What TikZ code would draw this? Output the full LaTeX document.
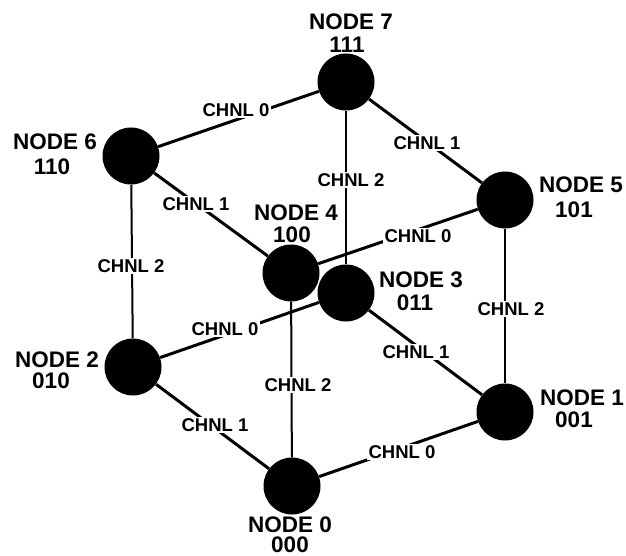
\documentclass[tikz,border=0pt]{standalone}
\usepackage{fontspec}
\setmainfont{Liberation Sans}
\begin{document}
\begin{tikzpicture}[x=1pt,y=-1pt,
  dot/.style={circle,fill=black,draw=none,minimum size=57pt,inner sep=0pt},
  thick0/.style={line width=3pt},
  thin2/.style={line width=2pt},
  lab/.style={fill=white,inner sep=1.5pt,font=\fontsize{18.5}{20}\selectfont\bfseries},
  nlab/.style={anchor=base,inner sep=0pt,font=\fontsize{22.5}{27}\selectfont\bfseries}]
\useasboundingbox (0,0) rectangle (626,556);
% nodes
\node[dot] (n0) at (292,486) {};
\node[dot] (n1) at (505,412) {};
\node[dot] (n2) at (133,367) {};
\node[dot] (n4) at (291,273) {};
\node[dot] (n3) at (346,293) {};
\node[dot] (n5) at (505,200) {};
\node[dot] (n6) at (131,156) {};
\node[dot] (n7) at (346,82) {};
% edges
\draw[thick0] (n6) -- (n7);
\draw[thick0] (n7) -- (n5);
\draw[thin2] (n7) -- (n3);
\draw[thick0] (n6) -- (n4);
\draw[thin2] (n6) -- (n2);
\draw[thick0] (n5) -- (n4);
\draw[thin2] (n5) -- (n1);
\draw[thin2] (n4) -- (n0);
\draw[thick0] (n2) -- (n3);
\draw[thick0] (n3) -- (n1);
\draw[thick0] (n2) -- (n0);
\draw[thick0] (n0) -- (n1);
% channel labels
\node[lab] (c67) at (236,110) {CHNL 0};
\node[lab] (c75) at (427,143) {CHNL 1};
\node[lab] (c73) at (351,180) {CHNL 2};
\node[lab] (c64) at (196,204) {CHNL 1};
\node[lab] (c62) at (131,266) {CHNL 2};
\node[lab] (c54) at (418,236) {CHNL 0};
\node[lab] (c51) at (511,309) {CHNL 2};
\node[lab] (c40) at (298,385) {CHNL 2};
\node[lab] (c23) at (225,329) {CHNL 0};
\node[lab] (c31) at (416,352) {CHNL 1};
\node[lab] (c20) at (215,425) {CHNL 1};
\node[lab] (c01) at (402,452) {CHNL 0};
% node labels
\node[nlab] (l7a) at (351,30) {NODE 7};
\node[nlab] (l7b) at (347,53) {111};
\node[nlab] (l6a) at (55,150) {NODE 6};
\node[nlab] (l6b) at (52,175) {110};
\node[nlab] (l5a) at (581,193) {NODE 5};
\node[nlab] (l5b) at (574,217) {101};
\node[nlab] (l4a) at (296,220) {NODE 4};
\node[nlab] (l4b) at (292,242) {100};
\node[nlab] (l3a) at (421,287) {NODE 3};
\node[nlab] (l3b) at (415,310) {011};
\node[nlab] (l2a) at (57,367) {NODE 2};
\node[nlab] (l2b) at (51,388) {010};
\node[nlab] (l1a) at (582,405) {NODE 1};
\node[nlab] (l1b) at (574,427) {001};
\node[nlab] (l0a) at (290,532) {NODE 0};
\node[nlab] (l0b) at (290,552.5) {000};
\end{tikzpicture}
\end{document}
